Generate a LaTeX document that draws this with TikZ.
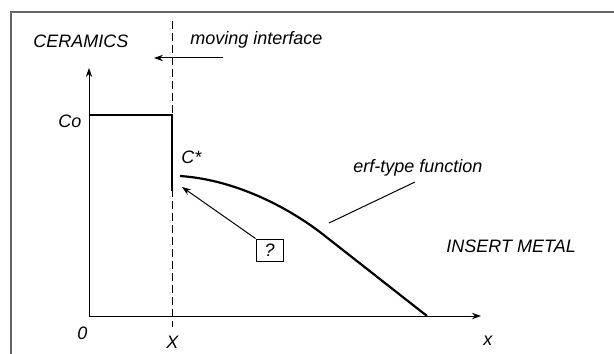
\documentclass[tikz,border=0pt]{standalone}
\usepackage{fontspec}
\setmainfont{Liberation Sans}
\usetikzlibrary{arrows.meta}
\begin{document}
\begin{tikzpicture}[x=0.5pt,y=-0.5pt,
  lbl/.style={inner sep=0pt,anchor=base west,font=\fontsize{9}{11}\selectfont\itshape},
  thin/.style={line width=0.5pt,black},
  thick2/.style={line width=1.1pt,black},
  axis/.style={line width=0.5pt,-{Stealth[length=4.5pt,width=3.2pt]}},
  frame/.style={line width=0.6pt,draw=black!60},
  qbox/.style={draw,line width=0.5pt,minimum width=13.5pt,minimum height=11pt,inner sep=0pt,font=\fontsize{9}{11}\selectfont\itshape}]
\useasboundingbox (0,0) rectangle (614,353);
% frame
\coordinate (fb) at (11,360);
\coordinate (ftl) at (11,12);
\coordinate (ftr) at (620,12);
\draw[frame] (fb) -- (ftl) -- (ftr);
% coordinates
\coordinate (O) at (89,316);
\coordinate (ytip) at (89,68);
\coordinate (xtip) at (481,316);
\coordinate (dtop) at (172,21);
\coordinate (dbot) at (172,327);
\coordinate (co0) at (89,115);
\coordinate (co1) at (172,115);
\coordinate (cstep) at (172,191);
\coordinate (cs) at (180,176);
\coordinate (cl) at (325,236);
\coordinate (ce) at (427,316);
\coordinate (ma) at (223,58);
\coordinate (mb) at (154,58);
\coordinate (qt) at (182,187);
\coordinate (erfa) at (415,182);
\coordinate (erfb) at (329,223);
% axes
\draw[axis] (O) -- (ytip);
\draw[axis] (O) -- (xtip);
% dashed interface
\draw[thin,dash pattern=on 4pt off 2pt] (dtop) -- (dbot);
% profile
\draw[thick2] (co0) -- (co1) -- (cstep);
\draw[thick2] (cs) .. controls (240,180) and (295,212) .. (cl) -- (ce);
% moving arrow
\draw[axis] (ma) -- (mb);
% labels
\node[lbl] (ceram) at (33,48) {CERAMICS};
\node[lbl] (mov) at (190,45) {moving interface};
\node[lbl] (co) at (58,127) {Co};
\node[lbl] (cstar) at (181,163) {C*};
\node[lbl] (erf) at (353,172) {erf-type function};
\node[lbl] (ins) at (446,252) {INSERT METAL};
\node[lbl] (zero) at (77,339) {0};
\node[lbl] (X) at (166,348) {X};
\node[lbl] (xl) at (483,345) {x};
% question box
\node[qbox] (q) at (269.5,250) {?};
\draw[axis] (q.north west) -- (qt);
% erf leader
\draw[thin] (erfa) -- (erfb);
\end{tikzpicture}
\end{document}
